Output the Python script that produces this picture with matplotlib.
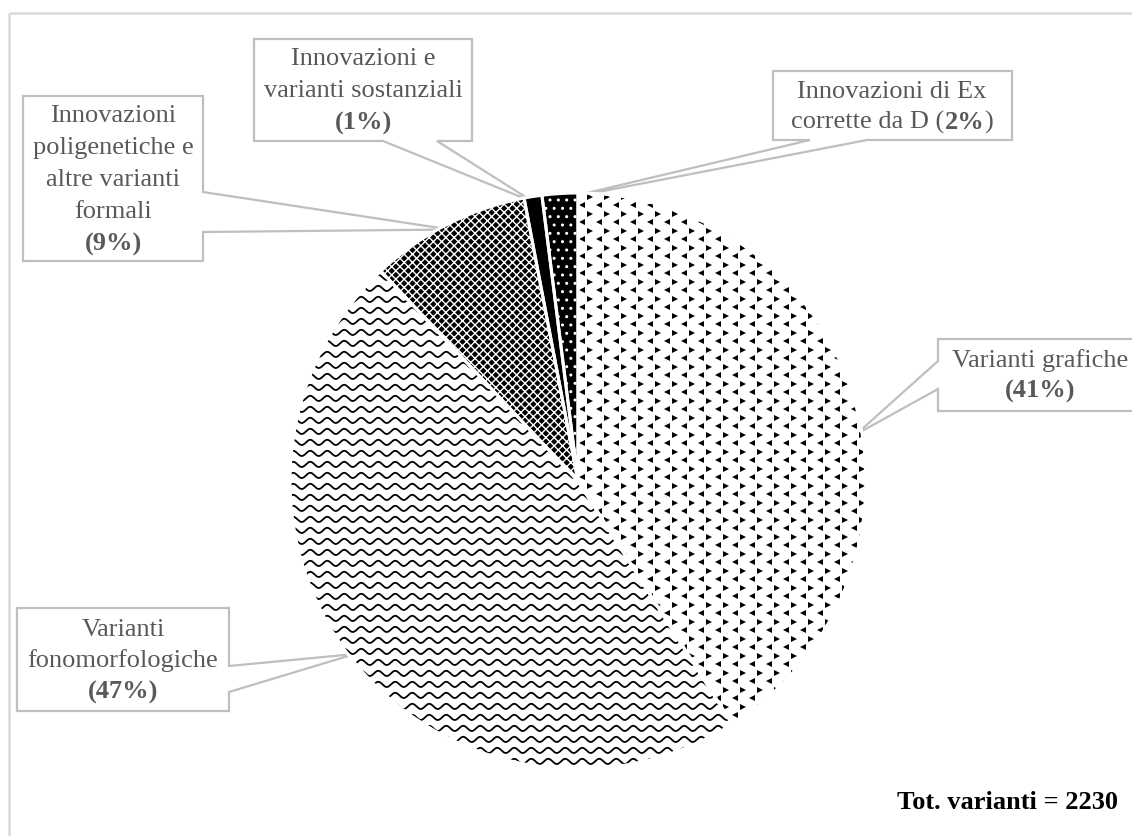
import numpy as np
import matplotlib.pyplot as plt
from matplotlib.patches import Wedge, Polygon, Rectangle

labels = ['Varianti grafiche', 'Varianti fonomorfologiche',
          'Innovazioni poligenetiche e altre varianti formali',
          'Innovazioni e varianti sostanziali',
          'Innovazioni di Ex corrette da D']
percent = [41, 47, 9, 1, 2]
total = 2230

plt.rcParams['font.family'] = ['Liberation Serif', 'DejaVu Serif']
GREY_TEXT = '#595959'
GREY_LINE = '#bfbfbf'

fig = plt.figure(figsize=(11.32, 8.37), dpi=100)

# pixel-space layer for frame, callouts and text
over = fig.add_axes([0, 0, 1, 1])
over.set_xlim(0, 1132)
over.set_ylim(837, 0)
over.axis('off')

ax = fig.add_axes([278 / 1132, 55 / 837, 600 / 1132, 600 / 837])
wedges, _ = ax.pie(percent, startangle=90, counterclock=False, radius=1,
                   colors=['white'] * len(percent), wedgeprops=dict(linewidth=0))
lim = 300 / 288
ax.set_xlim(-lim, lim)
ax.set_ylim(-lim, lim)
ax.set_aspect('equal')
ax.axis('off')

# fill patterns
# 0: small chevrons
s = 17 / 288
g = np.arange(-1.05, 1.05, s)
gx, gy = np.meshgrid(g, g)
ax.plot(gx.ravel(), gy.ravel(), '<', ms=3.8, color='black', mew=0,
        clip_path=wedges[0])
ax.plot(gx.ravel() + s / 2, gy.ravel() - s / 2, '>', ms=3.8, color='black',
        mew=0, clip_path=wedges[0])

# 1: wavy lines
xw = np.linspace(-1.05, 1.05, 2000)
for y0 in np.arange(-1.05, 1.05, 11 / 288):
    line, = ax.plot(xw, y0 + 2.6 / 288 * np.sin(2 * np.pi * xw / (17 / 288)),
                    color='black', lw=1.3)
    line.set_clip_path(wedges[1])

# 2: dense dark check
wedges[2].set_facecolor('black')
wedges[2].set_edgecolor('white')
wedges[2].set_hatch('xxxx')
# 3: solid black
wedges[3].set_facecolor('black')
# 4: black with white dots
wedges[4].set_facecolor('black')
wedges[4].set_edgecolor('white')
wedges[4].set_hatch('..')

# white separators between slices
for w in wedges:
    ax.add_patch(Wedge(w.center, w.r, w.theta1, w.theta2, fill=False,
                       edgecolor='white', lw=2.2, zorder=5))

# outer frame
over.add_patch(Rectangle((9, 14), 1300, 1000, fill=False,
                         edgecolor='#d9d9d9', lw=1.8))


def tip_of(w, frac=0.5, r=0.98):
    ang = np.radians(w.theta1 + frac * (w.theta2 - w.theta1))
    disp = ax.transData.transform((r * np.cos(ang), r * np.sin(ang)))
    return tuple(over.transData.inverted().transform(disp))


def callout(box, side, a, b, tip):
    x0, y0, x1, y1 = box
    tl, tr, br, bl = (x0, y0), (x1, y0), (x1, y1), (x0, y1)
    if side == 'right':
        pts = [tl, tr, (x1, a), tip, (x1, b), br, bl]
    elif side == 'bottom':
        pts = [tl, tr, br, (b, y1), tip, (a, y1), bl]
    else:  # left
        pts = [tl, tr, br, bl, (x0, b), tip, (x0, a)]
    over.add_patch(Polygon(pts, closed=True, facecolor='white',
                           edgecolor=GREY_LINE, lw=1.6, zorder=3))


renderer = fig.canvas.get_renderer()


def write_lines(cx, cy, lines, step=31, size=19):
    n = len(lines)
    for i, ln in enumerate(lines):
        y = cy + (i - (n - 1) / 2) * step
        parts = ln if isinstance(ln, list) else [(ln, 'normal')]
        texts = [over.text(0, y, t, ha='left', va='center', fontsize=size,
                           weight=wt, color=GREY_TEXT, zorder=4)
                 for t, wt in parts]
        widths = [t.get_window_extent(renderer).width for t in texts]
        x = cx - sum(widths) / 2
        for t, wdt in zip(texts, widths):
            t.set_x(x)
            x += wdt


# Varianti grafiche
callout((938, 340, 1145, 412), 'left', 362, 390, tip_of(wedges[0], 0.455))
write_lines(1040, 376, ['Varianti grafiche', [('(41%)', 'bold')]])

# Varianti fonomorfologiche
callout((17, 609, 229, 712), 'right', 667, 693, tip_of(wedges[1]))
write_lines(123, 661, ['Varianti', 'fonomorfologiche', [('(47%)', 'bold')]])

# Innovazioni poligenetiche
callout((23, 97, 203, 262), 'right', 193, 233, tip_of(wedges[2]))
write_lines(113, 180, ['Innovazioni', 'poligenetiche e', 'altre varianti',
                       'formali', [('(9%)', 'bold')]], step=32)

# Innovazioni e varianti sostanziali
callout((254, 40, 472, 142), 'bottom', 383, 437, tip_of(wedges[3]))
write_lines(363, 91, ['Innovazioni e', 'varianti sostanziali',
                      [('(1%)', 'bold')]], step=32)

# Innovazioni di Ex corrette da D
callout((773, 72, 1012, 141), 'bottom', 810, 867, tip_of(wedges[4]))
write_lines(892, 107, ['Innovazioni di Ex',
                       [('corrette da D (', 'normal'), ('2%', 'bold'),
                        (')', 'normal')]], step=30)

over.text(1118, 803, f'Tot. varianti = {total}', ha='right', va='center',
          fontsize=19, weight='bold', color='black')

fig.savefig('out.png', dpi=100)
